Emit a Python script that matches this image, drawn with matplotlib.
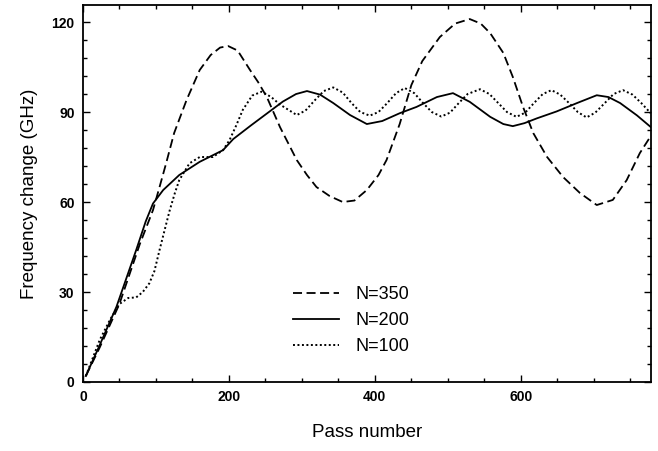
import matplotlib
matplotlib.use("Agg")
import matplotlib.pyplot as plt
from matplotlib.ticker import MultipleLocator

plt.rcParams["font.family"] = ["Liberation Sans", "DejaVu Sans"]

# N=350 (dashed)
pass_350 = [4, 23, 50, 78, 96, 105, 114, 125, 142, 160, 175, 188, 199, 212, 229, 240,
            252, 270, 293, 307, 320, 338, 356, 372, 389, 405, 416, 434, 450, 465, 489,
            510, 530, 545, 558, 576, 589, 603, 617, 636, 658, 681, 704, 726, 745, 763, 778]
freq_350 = [2, 11.5, 26, 46, 57.3, 65, 72.9, 83, 94, 104, 109, 111.5, 112, 110.5, 104, 100,
            95, 85, 74, 69, 65, 62, 60, 60.5, 64, 69, 74, 86, 99, 107, 115,
            119.5, 121, 119.5, 116.3, 109.7, 101.7, 91.7, 83, 75, 68.3, 63, 59, 60.7, 67.3,
            76.3, 82]

# N=200 (solid)
pass_200 = [4, 23, 46, 73, 86, 96, 110, 132, 160, 192, 206, 230, 252, 274, 292, 307, 325,
            343, 366, 389, 410, 434, 457, 485, 507, 530, 558, 576, 589, 605, 622, 649,
            677, 704, 720, 736, 759, 778]
freq_200 = [2, 12.3, 25.1, 44, 53.5, 59.5, 64, 69, 73.4, 77.3, 81, 85.5, 89.5, 93.5, 96, 97,
            95.8, 93, 89, 86, 87, 89.6, 91.7, 95, 96.3, 93.4, 88.4, 86, 85.3, 86.3, 87.9,
            90.2, 93, 95.6, 95, 93, 88.9, 85]

# N=100 (dotted)
pass_100 = [4, 23, 37, 50, 62, 73, 82, 91, 98, 105, 112, 119, 126, 132, 146, 160, 178,
            192, 201, 210, 219, 232, 245, 258, 270, 293, 305, 318, 330, 343, 356, 368, 380,
            393, 405, 417, 429, 441, 454, 466, 478, 491, 503, 515, 527, 544, 557, 569, 581,
            594, 606, 618, 630, 642, 654, 666, 678, 690, 702, 715, 727, 740, 753, 765, 778]
freq_100 = [2, 14, 20.7, 26, 28, 28.2, 30, 32.9, 37, 44, 50.7, 57.3, 63, 67.3, 72.9, 75, 75,
            77.3, 80.7, 85.5, 90.7, 95.5, 96.8, 95, 92.5, 89, 90.5, 94, 97, 98.2, 96.5, 93, 90,
            88.8, 90, 93, 96.3, 98, 96.3, 93, 90, 88.5, 89.8, 93, 96, 97.6, 96, 93, 90,
            88.4, 89.8, 93, 96, 97.3, 95.8, 93, 90, 88.2, 89.8, 93, 96, 97.3, 95.8, 93, 89.6]

x_ticks = [0, 200, 400, 600]
y_ticks = [0, 30, 60, 90, 120]

fig = plt.figure(figsize=(6.58, 4.51), dpi=100)
ax = fig.add_axes([0.126, 0.153, 0.863, 0.836])

ax.plot(pass_350, freq_350, color="black", lw=1.3, linestyle=(0, (5, 2.5)), label="N=350")
ax.plot(pass_200, freq_200, color="black", lw=1.3, linestyle="-", label="N=200")
ax.plot(pass_100, freq_100, color="black", lw=1.4, linestyle=(0, (1, 1.3)), label="N=100")

ax.set_xlim(0, 778)
ax.set_ylim(0, 125.7)
ax.set_xticks(x_ticks)
ax.set_yticks(y_ticks)
ax.xaxis.set_minor_locator(MultipleLocator(50))
ax.yaxis.set_minor_locator(MultipleLocator(6))
ax.tick_params(which="both", direction="in", top=True, right=True, width=1)
ax.tick_params(which="major", length=5, labelsize=10, pad=6)
ax.tick_params(which="minor", length=3)
for lab in ax.get_xticklabels() + ax.get_yticklabels():
    lab.set_fontweight("bold")
for spine in ax.spines.values():
    spine.set_linewidth(1.3)

ax.set_xlabel("Pass number", fontsize=13.5, labelpad=14)
ax.set_ylabel("Frequency change (GHz)", fontsize=13.5, labelpad=10)

ax.legend(loc="upper left", bbox_to_anchor=(0.342, 0.297), frameon=False,
          fontsize=13, handlelength=2.5, handletextpad=0.95, labelspacing=0.5)

fig.savefig("out.png", dpi=100)
